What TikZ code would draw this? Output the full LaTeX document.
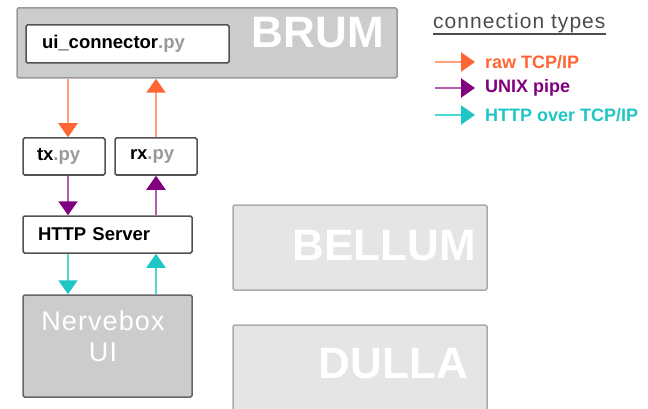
\documentclass[tikz,border=0pt]{standalone}
\usepackage{fontspec}
\setmainfont{Liberation Sans}
\newfontfamily\spacedfont[LetterSpace=5]{Liberation Sans}
\newfontfamily\widefont[LetterSpace=4]{Liberation Sans}
\usetikzlibrary{arrows.meta}
\definecolor{rawline}{HTML}{FFA07A}
\definecolor{rawhead}{HTML}{FF6633}
\definecolor{pipeline}{HTML}{B25FB2}
\definecolor{pipehead}{HTML}{800080}
\definecolor{httpline}{HTML}{4DD6D6}
\definecolor{httphead}{HTML}{1FC6C6}
\definecolor{pygray}{HTML}{999999}
\begin{document}
\begin{tikzpicture}[x=1pt,y=-1pt,
  host/.style={draw=black!40, fill=black!20, line width=1.5pt, rounded corners=1.5pt, inner sep=0pt},
  idlehost/.style={draw=black!33, fill=black!10, line width=1.5pt, rounded corners=1.5pt, inner sep=0pt},
  hostname/.style={white, font=\fontsize{44}{48}\bfseries\selectfont, inner sep=0pt},
  prog/.style={draw=black!68, fill=white, line width=1.5pt, rounded corners=1.5pt, inner ysep=0pt, align=left, font=\fontsize{18.5}{20}\bfseries\selectfont},
  rawarr/.style={draw=rawline, line width=2.2pt, -{Triangle[width=19pt,length=14pt,color=rawhead,fill=rawhead]}},
  pipearr/.style={draw=pipeline, line width=2.2pt, -{Triangle[width=19pt,length=14pt,color=pipehead,fill=pipehead]}},
  httparr/.style={draw=httpline, line width=2.2pt, -{Triangle[width=19pt,length=14pt,color=httphead,fill=httphead]}},
  legendtext/.style={anchor=west, inner xsep=10pt, inner ysep=0pt, font=\fontsize{18}{20}\bfseries\selectfont}]
\useasboundingbox (0,0) rectangle (648,409);
\clip (0,0) rectangle (648,409);
\node[host, minimum width=380pt, minimum height=70pt] (brum) at (207,43){};
\node[hostname, anchor=east] (brumname) at (384,33){BRUM};
\node[prog, minimum width=203pt, minimum height=38pt, text width=171pt, inner xsep=16pt] (uiconn) at (127.5,44){ui\_connector\textcolor{pygray}{.py}};
\node[prog, minimum width=82pt, minimum height=37pt, text width=54pt, inner xsep=14pt] (tx) at (64,156.5){tx\textcolor{pygray}{.py}};
\node[prog, minimum width=82pt, minimum height=37pt, text width=52pt, inner xsep=15pt] (rx) at (156,156.5){rx\textcolor{pygray}{.py}};
\node[prog, minimum width=169pt, minimum height=37pt, text width=139pt, inner xsep=15pt] (http) at (107.5,234.5){HTTP Server};
\node[host, draw=black!60, minimum width=169pt, minimum height=102pt] (nervebox) at (107.5,346){};
\node[white, align=center, inner sep=0pt, font=\fontsize{27}{31}\widefont] (nerveboxname) at (103,336){Nervebox\\UI};
\node[idlehost, minimum width=254pt, minimum height=85pt] (bellum) at (360,247.5){};
\node[hostname, anchor=east] (bellumname) at (476,246){BELLUM};
\node[idlehost, minimum width=254pt, minimum height=100pt] (dulla) at (360,375){};
\node[hostname, anchor=east] (dullaname) at (468,364){DULLA};
\draw[rawarr] ([xshift=4pt]tx.north |- brum.south) -- ([xshift=4pt]tx.north);
\draw[rawarr] (rx.north) -- (rx.north |- brum.south);
\draw[pipearr] ([xshift=4pt]tx.south) -- ([xshift=4pt]tx.south |- http.north);
\draw[pipearr] (rx.south |- http.north) -- (rx.south);
\draw[httparr] ([xshift=4pt]tx.south |- http.south) -- ([xshift=4pt]tx.south |- nervebox.north);
\draw[httparr] (rx.south |- nervebox.north) -- (rx.south |- http.south);
\node[anchor=base west, inner sep=0pt, text=black!70, font=\fontsize{21}{24}\spacedfont] (conntypes) at (433,28.5){connection types};
\draw[black!70, line width=1.2pt] ([yshift=-5.5pt]conntypes.base west) -- ([yshift=-5.5pt]conntypes.base east);
\node[legendtext, text=rawhead] (rawtcp) at (475,62){raw TCP/IP};
\node[legendtext, text=pipehead] (unixpipe) at (475,88){UNIX pipe};
\node[legendtext, text=httphead] (httptcp) at (475,115){HTTP over TCP/IP};
\coordinate (rawstart) at (435,62);
\coordinate (pipestart) at (435,88);
\coordinate (httpstart) at (435,115);
\draw[rawarr] (rawstart) -- (rawtcp.west);
\draw[pipearr] (pipestart) -- (unixpipe.west);
\draw[httparr] (httpstart) -- (httptcp.west);
\end{tikzpicture}
\end{document}
